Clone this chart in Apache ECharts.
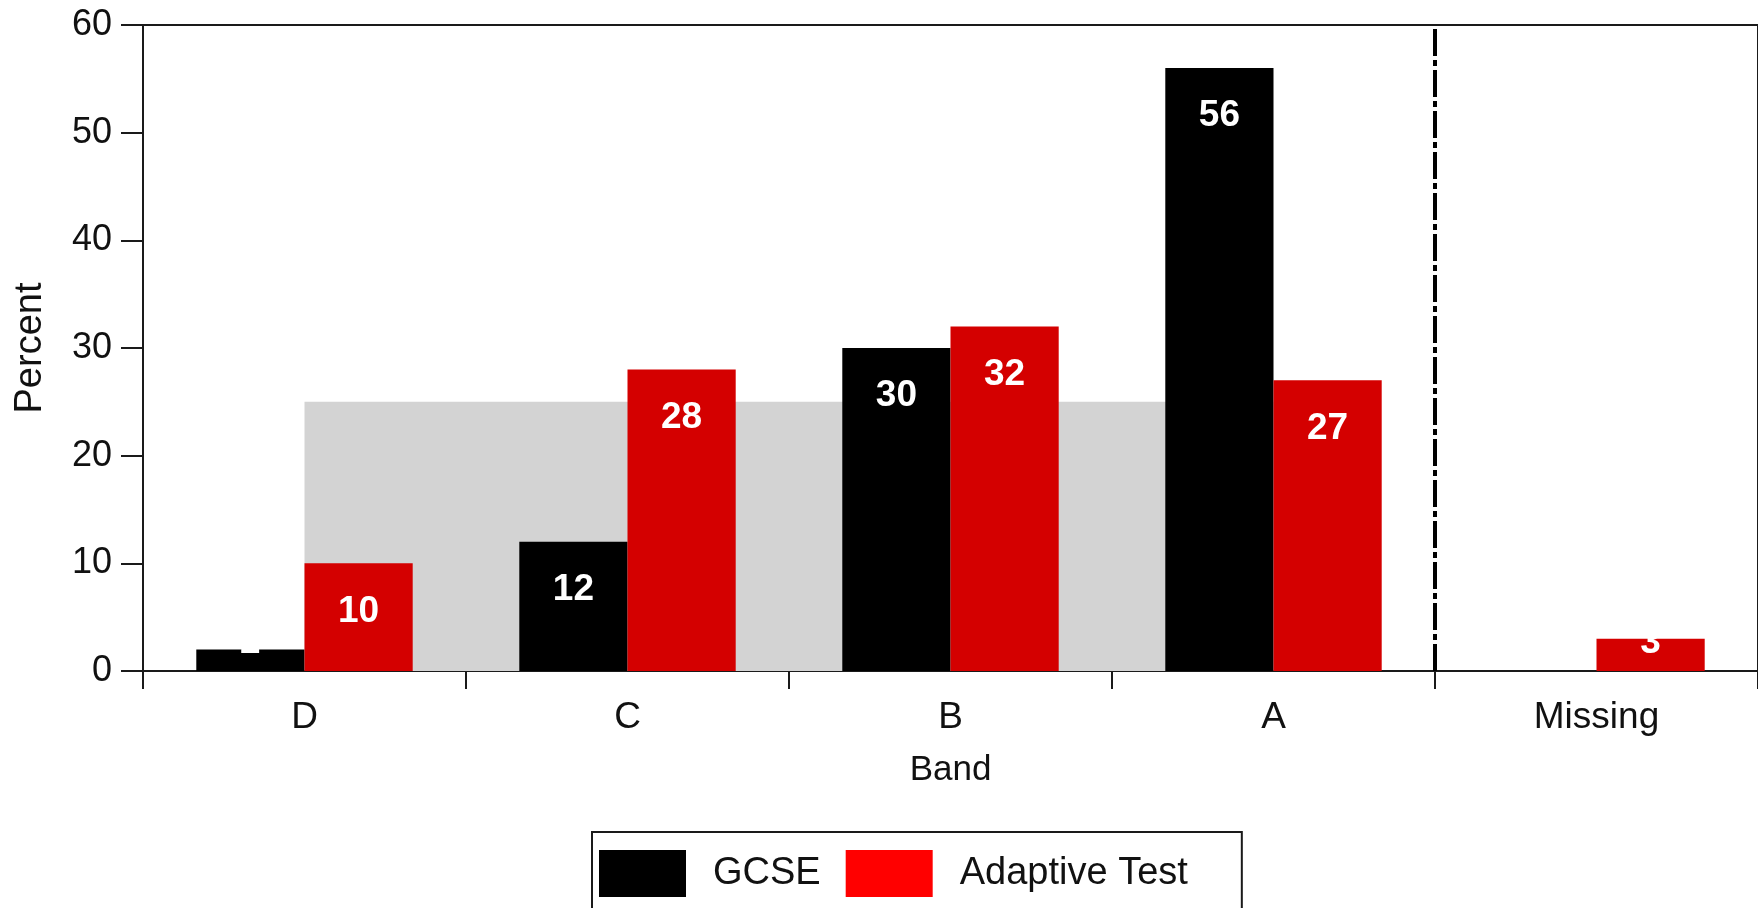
<!DOCTYPE html>
<html>
<head>
<meta charset="utf-8">
<script src="https://cdn.jsdelivr.net/npm/echarts@6/dist/echarts.min.js"></script>
<style>
html,body{margin:0;padding:0;background:#fff;}
#chart{width:1758px;height:908px;}
</style>
</head>
<body>
<div id="chart"></div>
<script>
// ---- data ----
const categories = ['D', 'C', 'B', 'A', 'Missing'];
const gcseValues = [2, 12, 30, 56, null];
const adaptiveValues = [10, 28, 32, 27, 3];
const seriesNames = ['GCSE', 'Adaptive Test'];
const yMin = 0, yMax = 60, yInterval = 10;
// shaded reference band: from category index 0 ('D') to index 3 ('A') at 25 percent
const shadeStartIndex = 0, shadeEndIndex = 3, shadeValue = 25;
const separatorIndex = 3.5; // boundary between 'A' and 'Missing'

// ---- style ----
const FONT = '"Liberation Sans", Arial, sans-serif';
const smallThreshold = 5;

function buildData(values) {
  return values.map(v => {
    if (v === null) return '-';
    if (v < smallThreshold) {
      return { value: v, label: { position: 'insideBottom', distance: 9 } };
    }
    return v;
  });
}

const barLabel = {
  show: true,
  position: 'insideTop',
  distance: 29,
  color: '#fff',
  fontFamily: FONT,
  fontWeight: 'bold',
  fontSize: 37,
  lineHeight: 38,
  textBorderWidth: 0,
  formatter: p => p.value
};

const chart = echarts.init(document.getElementById('chart'), null, { renderer: 'canvas' });
chart.setOption({
  animation: false,
  backgroundColor: '#fff',
  grid: {
    left: 143, top: 25, right: -3, bottom: 237,
    show: true, borderColor: '#1a1a1a', borderWidth: 2, backgroundColor: 'transparent'
  },
  legend: {
    left: 592, top: 832,
    orient: 'horizontal',
    selectedMode: false,
    borderColor: '#1a1a1a', borderWidth: 2,
    padding: [18, 54, 20, 7],
    itemWidth: 87, itemHeight: 47, itemGap: 25,
    icon: 'rect',
    textStyle: { fontFamily: FONT, fontSize: 38, color: '#111', padding: [4, 0, 0, 22] },
    data: [
      { name: seriesNames[0], itemStyle: { color: '#000' } },
      { name: seriesNames[1], itemStyle: { color: '#ff0000' } }
    ]
  },
  xAxis: [
    {
      type: 'category',
      data: categories,
      name: 'Band',
      nameLocation: 'middle',
      nameGap: 82,
      nameTextStyle: { fontFamily: FONT, fontSize: 35, color: '#111' },
      axisLine: { show: true, onZero: false, lineStyle: { color: '#1a1a1a', width: 2 } },
      axisTick: { show: true, length: 18, interval: 0, lineStyle: { color: '#1a1a1a', width: 2 } },
      axisLabel: { margin: 28, fontFamily: FONT, fontSize: 37, color: '#111' },
      splitLine: { show: false }
    },
    {
      // hidden helper axis aligned with category centres (index -0.5 .. 4.5)
      type: 'value',
      min: -0.5,
      max: categories.length - 0.5,
      show: false,
      position: 'bottom',
      axisLine: { show: false, onZero: false },
      splitLine: { show: false }
    }
  ],
  yAxis: {
    type: 'value',
    min: yMin, max: yMax, interval: yInterval,
    name: 'Percent',
    nameLocation: 'middle',
    nameGap: 93,
    nameRotate: 90,
    nameTextStyle: { fontFamily: FONT, fontSize: 38, color: '#111' },
    axisLine: { show: true, onZero: false, lineStyle: { color: '#1a1a1a', width: 2 } },
    axisTick: { show: true, length: 22, lineStyle: { color: '#1a1a1a', width: 2 } },
    axisLabel: { margin: 31, fontFamily: FONT, fontSize: 36, color: '#111' },
    splitLine: { show: false }
  },
  series: [
    {
      name: 'shade',
      type: 'line',
      xAxisIndex: 1,
      yAxisIndex: 0,
      z: 1,
      silent: true,
      symbol: 'none',
      lineStyle: { width: 0, color: '#d3d3d3' },
      areaStyle: { color: '#d3d3d3', opacity: 1 },
      data: [[shadeStartIndex, shadeValue], [shadeEndIndex, shadeValue]],
      markLine: {
        silent: true,
        symbol: 'none',
        label: { show: false },
        lineStyle: { color: '#000', width: 4, type: [27, 4, 6, 4] },
        data: [{ xAxis: separatorIndex }]
      }
    },
    {
      name: seriesNames[0],
      type: 'bar',
      data: buildData(gcseValues),
      itemStyle: { color: '#000' },
      barGap: '0%',
      barCategoryGap: '33%',
      label: barLabel
    },
    {
      name: seriesNames[1],
      type: 'bar',
      data: buildData(adaptiveValues),
      itemStyle: { color: '#d40000' },
      barGap: '0%',
      barCategoryGap: '33%',
      label: barLabel
    }
  ]
});
</script>
</body>
</html>
